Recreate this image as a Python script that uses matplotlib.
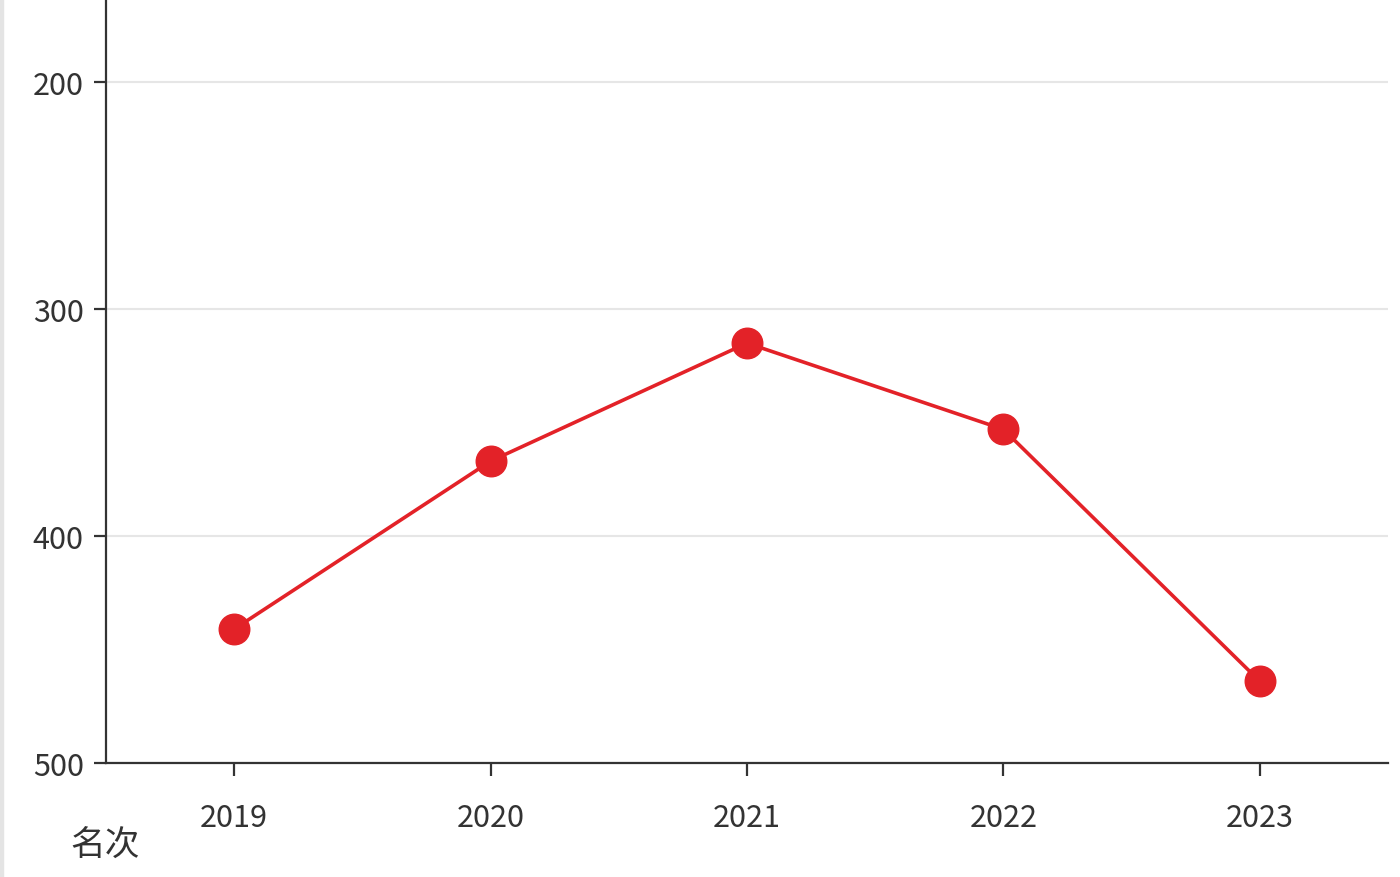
import numpy as np
import matplotlib.pyplot as plt
import matplotlib.patches as patches

plt.rcParams['font.family'] = ['Noto Sans CJK SC', 'DejaVu Sans']

years = ["2019", "2020", "2021", "2022", "2023"]
ranks = [441, 367, 315, 353, 464]
y_ticks = [200, 300, 400, 500]

W, H = 1400, 878
fig = plt.figure(figsize=(W / 100, H / 100), dpi=100)
ax = fig.add_axes([106 / W, 1 - 764 / H, (1388 - 106) / W, 764 / H])

x = np.arange(len(years))
ax.plot(x, ranks, color="#e32228", lw=2.6, marker="o", ms=22, zorder=3)

ax.set_xlim(-0.5, len(years) - 0.5)
ax.set_ylim(500, 163.4)
ax.set_xticks(x)
ax.set_xticklabels(years)
ax.set_yticks(y_ticks)

ax.grid(axis="y", color="#e6e6e6", lw=1.5)
ax.set_axisbelow(True)
for s in ["top", "right"]:
    ax.spines[s].set_visible(False)
for s in ["left", "bottom"]:
    ax.spines[s].set_color("#333333")
    ax.spines[s].set_linewidth(1.6)
ax.tick_params(axis="both", colors="#333333", labelsize=22, width=1.6, length=9)
ax.tick_params(axis="y", pad=7)
ax.tick_params(axis="x", pad=19)

fig.text(105 / W, 1 - 846 / H, "名次", ha="center", va="center", fontsize=25, color="#333333")

# light border strip on the left edge
fig.patches.append(patches.Rectangle((0, 0), 3 / W, 1, transform=fig.transFigure,
                                     color="#e4e4e4", zorder=0))

fig.savefig("out.png", dpi=100)
